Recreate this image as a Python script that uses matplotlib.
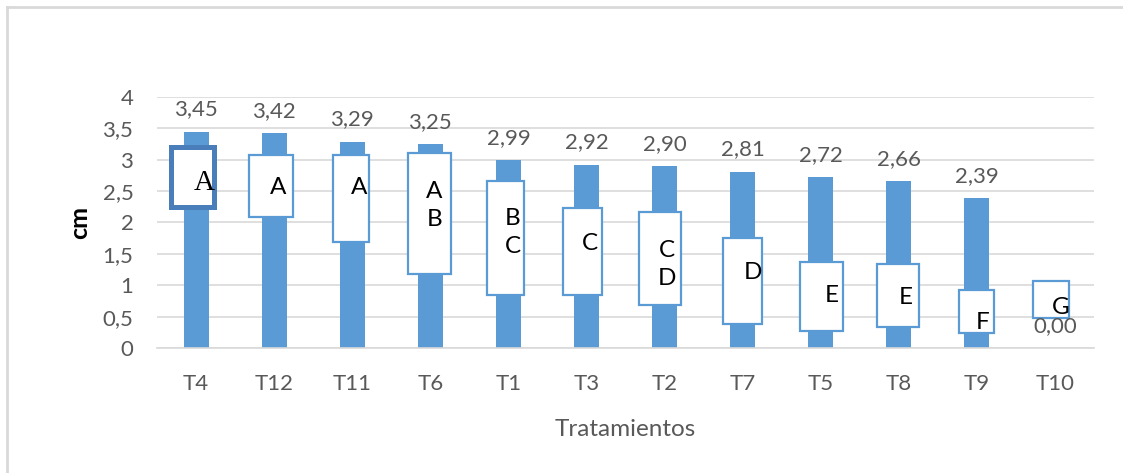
import numpy as np
import matplotlib
matplotlib.use("Agg")
import matplotlib.pyplot as plt
from matplotlib.patches import Rectangle
from matplotlib.lines import Line2D

plt.rcParams['font.family'] = ['Lato', 'DejaVu Sans']

tratamientos = ["T4", "T12", "T11", "T6", "T1", "T3", "T2", "T7", "T5", "T8", "T9", "T10"]
altura = [3.45, 3.42, 3.29, 3.25, 2.99, 2.92, 2.90, 2.81, 2.72, 2.66, 2.39, 0.00]
grupos = ["A", "A", "A", "A\nB", "B\nC", "C", "C\nD", "D", "E", "E", "F", "G"]

# cajas de texto con las letras (limites en cm)
caja_inf = [2.24, 2.08, 1.69, 1.18, 0.84, 0.85, 0.68, 0.39, 0.27, 0.34, 0.24, 0.48]
caja_sup = [3.21, 3.08, 3.08, 3.10, 2.66, 2.23, 2.16, 1.76, 1.37, 1.34, 0.92, 1.06]
caja_ancho = [0.55, 0.56, 0.46, 0.56, 0.47, 0.49, 0.53, 0.49, 0.54, 0.53, 0.45, 0.47]
caja_dx = [-0.04, -0.04, -0.01, -0.01, -0.04, -0.05, -0.06, 0.0, 0.01, -0.01, -0.01, -0.05]
letra_dx = [0.10, 0.05, 0.09, 0.05, 0.06, 0.05, 0.03, 0.13, 0.14, 0.09, 0.08, 0.08]
letra_y = [2.63, 2.55, 2.55, 2.27, 1.84, 1.67, 1.33, 1.20, 0.83, 0.80, 0.41, 0.64]

azul = "#5B9BD5"
gris = "#595959"

fig = plt.figure(figsize=(11.23, 4.73), dpi=100)
ax = fig.add_axes([157 / 1123, 1 - 348 / 473, (1094 - 157) / 1123, (348 - 97) / 473])

x = np.arange(len(tratamientos))
ax.bar(x, altura, width=0.32, color=azul, zorder=2)

for i, v in enumerate(altura):
    ax.annotate(f"{v:.2f}".replace(".", ","), (x[i], v), xytext=(0, 16),
                textcoords="offset points", ha="center", va="center",
                fontsize=16, color=gris, zorder=5)

for i in range(len(tratamientos)):
    w = caja_ancho[i]
    cx = x[i] + caja_dx[i]
    if i == 0:
        ec, lw = "#4A7EBB", 3.6
    else:
        ec, lw = azul, 1.6
    ax.add_patch(Rectangle((cx - w / 2, caja_inf[i]), w, caja_sup[i] - caja_inf[i],
                           facecolor="white", edgecolor=ec, linewidth=lw, zorder=3))
    if i == 0:
        ax.text(x[i] + letra_dx[i], letra_y[i], grupos[i], ha="center", va="center",
                fontsize=21, family="Liberation Serif", color="black", zorder=6)
    else:
        ax.text(x[i] + letra_dx[i], letra_y[i], grupos[i], ha="center", va="center",
                fontsize=17.5, color="black", linespacing=1.4, zorder=6)

ax.set_xlim(-0.5, len(tratamientos) - 0.5)
ax.set_ylim(0, 4)
ax.set_yticks(np.arange(0, 4.01, 0.5))
ax.set_yticklabels([f"{t:g}".replace(".", ",") for t in np.arange(0, 4.01, 0.5)])
ax.set_xticks(x)
ax.set_xticklabels(tratamientos)
ax.tick_params(axis="both", length=0, labelsize=16, colors=gris)
ax.tick_params(axis="x", pad=19)
ax.tick_params(axis="y", pad=17)
ax.grid(axis="y", color="#D9D9D9", linewidth=1.2, zorder=0)
ax.set_axisbelow(True)
for s in ["top", "right", "left"]:
    ax.spines[s].set_visible(False)
ax.spines["bottom"].set_color("#D9D9D9")
ax.spines["bottom"].set_linewidth(1.2)

ax.set_ylabel("cm", fontsize=18, fontweight="bold", color="black", labelpad=8)
ax.set_xlabel("Tratamientos", fontsize=17.5, color=gris, labelpad=18)

# marco del grafico
fig.add_artist(Line2D([7 / 1123, 1], [1 - 7 / 473, 1 - 7 / 473], color="#D9D9D9", linewidth=2))
fig.add_artist(Line2D([7 / 1123, 7 / 1123], [0, 1 - 7 / 473], color="#D9D9D9", linewidth=2))

fig.savefig("out.png", dpi=100)
